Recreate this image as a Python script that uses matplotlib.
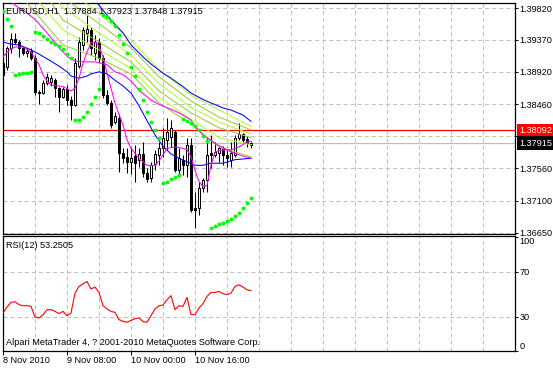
import matplotlib
matplotlib.use('Agg')
from matplotlib import pyplot as plt
from matplotlib.transforms import blended_transform_factory
import numpy as np

plt.rcParams['font.family'] = ['Liberation Sans', 'DejaVu Sans']
plt.rcParams['lines.scale_dashes'] = False

# EURUSD H1 candles (bar 0 = 8 Nov 2010 16:00)
opens = [1.3904, 1.3899, 1.3926, 1.3938, 1.3934, 1.3926, 1.3919, 1.3921, 1.3911, 1.3864,
         1.3862, 1.3876, 1.3878, 1.3880, 1.3869, 1.3856, 1.3868, 1.3852, 1.3845, 1.3900,
         1.3930, 1.3947, 1.3951, 1.3919, 1.3934, 1.3911, 1.3859, 1.3848, 1.3821, 1.3827,
         1.3777, 1.3772, 1.3765, 1.3773, 1.3768, 1.3776, 1.3749, 1.3742, 1.3762, 1.3775,
         1.3784, 1.3796, 1.3800, 1.3807, 1.3753, 1.3768, 1.3760, 1.3789, 1.3700, 1.3700,
         1.3728, 1.3739, 1.3777, 1.3775, 1.3777, 1.3784, 1.3775, 1.3768, 1.3775, 1.3799,
         1.3804, 1.3797, 1.37884]
highs = [1.3916, 1.3928, 1.3947, 1.3947, 1.3937, 1.3928, 1.3926, 1.3926, 1.3916, 1.3866,
         1.3880, 1.3890, 1.3888, 1.3883, 1.3871, 1.3871, 1.3873, 1.3858, 1.3911, 1.3941,
         1.3955, 1.3972, 1.3955, 1.3944, 1.3940, 1.3916, 1.3866, 1.3852, 1.3835, 1.3832,
         1.3784, 1.3784, 1.3786, 1.3789, 1.3784, 1.3793, 1.3756, 1.3765, 1.3782, 1.3793,
         1.3813, 1.3827, 1.3824, 1.3810, 1.3784, 1.3775, 1.3799, 1.3799, 1.3722, 1.3737,
         1.3742, 1.3799, 1.3803, 1.3793, 1.3787, 1.3787, 1.3782, 1.3793, 1.3803, 1.3820,
         1.3806, 1.3801, 1.37923]
lows = [1.3888, 1.3895, 1.3919, 1.3931, 1.3913, 1.3916, 1.3913, 1.3909, 1.3859, 1.3846,
        1.3861, 1.3873, 1.3872, 1.3856, 1.3835, 1.3855, 1.3845, 1.3824, 1.3844, 1.3897,
        1.3923, 1.3934, 1.3916, 1.3909, 1.3906, 1.3855, 1.3845, 1.3813, 1.3818, 1.3751,
        1.3763, 1.3749, 1.3748, 1.3737, 1.3758, 1.3744, 1.3737, 1.3737, 1.3753, 1.3760,
        1.3772, 1.3782, 1.3786, 1.3751, 1.3744, 1.3746, 1.3744, 1.3694, 1.3672, 1.3690,
        1.3722, 1.3722, 1.3756, 1.3772, 1.3765, 1.3760, 1.3758, 1.3758, 1.3772, 1.3796,
        1.3793, 1.3786, 1.37848]
closes = [1.3888, 1.3926, 1.3938, 1.3934, 1.3926, 1.3919, 1.3921, 1.3911, 1.3864, 1.3862,
          1.3876, 1.3885, 1.3883, 1.3869, 1.3856, 1.3868, 1.3852, 1.3845, 1.3904, 1.3934,
          1.3951, 1.3952, 1.3926, 1.3934, 1.3911, 1.3859, 1.3848, 1.3817, 1.3830, 1.3777,
          1.3770, 1.3765, 1.3770, 1.3763, 1.3776, 1.3749, 1.3741, 1.3760, 1.3776, 1.3784,
          1.3799, 1.3807, 1.3813, 1.3753, 1.3770, 1.3760, 1.3789, 1.3697, 1.3697, 1.3728,
          1.3739, 1.3775, 1.3775, 1.3779, 1.3784, 1.3775, 1.3770, 1.3777, 1.3799, 1.3804,
          1.3796, 1.3791, 1.37915]

# parabolic SAR
sar = [1.3978, 1.3966, 1.3957, 1.3888, 1.3889, 1.3890, 1.3890, 1.3892, 1.3948, 1.3947,
       1.3942, 1.3938, 1.3934, 1.3931, 1.3928, 1.3924, 1.3917, 1.3911, 1.3824, 1.3824,
       1.3828, 1.3835, 1.3846, 1.3856, 1.3868, 1.3972, 1.3969, 1.3964, 1.3957, 1.3944,
       1.3931, 1.3919, 1.3899, 1.3886, 1.3868, 1.3852, 1.3835, 1.3821, 1.3810, 1.3799,
       1.3735, 1.3737, 1.3741, 1.3744, 1.3746, 1.3825, 1.3823, 1.3820, 1.3815, 1.3810,
       1.3801, 1.3794, 1.3672, 1.3674, 1.3677, 1.3678, 1.3681, 1.3684, 1.3688, 1.3693,
       1.3700, 1.3707, 1.3714]

# RSI(12)
rsi = [33.5, 38.8, 42.8, 43.4, 40.8, 39.9, 39.9, 39.3, 30.0, 29.1,
       32.0, 36.4, 36.4, 34.9, 32.9, 34.9, 31.1, 33.5, 51.0, 56.9,
       59.2, 61.2, 54.6, 56.3, 51.6, 39.9, 37.0, 34.9, 34.0, 27.6,
       26.1, 25.3, 27.0, 28.5, 29.1, 25.9, 25.3, 31.1, 37.0, 39.9,
       40.5, 45.2, 48.7, 36.4, 39.9, 39.3, 47.2, 32.0, 32.0, 37.9,
       41.7, 48.1, 51.6, 51.6, 52.5, 50.4, 49.6, 51.0, 56.9, 58.3,
       56.3, 53.9, 53.25]

# moving averages (bar index, price)
blue_slow_bars = [21, 23, 25, 27, 30, 32, 35, 37, 40, 42, 45, 47, 50, 52, 55, 57, 60, 62]
blue_slow = [1.4005, 1.3993, 1.3979, 1.3965, 1.3947, 1.3930, 1.3913, 1.3903, 1.3890,
             1.3883, 1.3871, 1.3862, 1.3853, 1.3848, 1.3841, 1.3838, 1.3831, 1.3822]

blue_fast_bars = [0, 2, 4, 7, 9, 12, 14, 16, 17, 19, 21, 22, 24, 26, 28, 30, 32, 34, 36,
                  38, 40, 42, 44, 46, 48, 50, 52, 55, 58, 62]
blue_fast = [1.3934, 1.3931, 1.3930, 1.3923, 1.3917, 1.3907, 1.3900, 1.3892, 1.3886, 1.3883,
             1.3886, 1.3889, 1.3892, 1.3889, 1.3880, 1.3872, 1.3862, 1.3844, 1.3823, 1.3803,
             1.3787, 1.3776, 1.3770, 1.3765, 1.3760, 1.3760, 1.3763, 1.3763, 1.3768, 1.3770]

magenta_fast_bars = [0, 1, 2, 3, 5, 7, 8, 9, 10, 11, 12, 14, 15, 16, 17, 18, 19, 20, 21, 22,
                     23, 24, 25, 26, 27, 28, 29, 30, 31, 32, 33, 34, 36, 38, 39, 40, 41, 43,
                     45, 46, 47, 48, 49, 50, 51, 52, 53, 55, 57, 59, 61, 62]
magenta_fast = [1.3913, 1.3920, 1.3924, 1.3927, 1.3927, 1.3920, 1.3911, 1.3902, 1.3888, 1.3879,
                1.3873, 1.3872, 1.3871, 1.3868, 1.3865, 1.3869, 1.3883, 1.3904, 1.3920, 1.3933,
                1.3934, 1.3928, 1.3913, 1.3890, 1.3869, 1.3848, 1.3832, 1.3817, 1.3796, 1.3784,
                1.3777, 1.3770, 1.3760, 1.3760, 1.3766, 1.3775, 1.3784, 1.3786, 1.3784, 1.3782,
                1.3772, 1.3753, 1.3737, 1.3730, 1.3732, 1.3760, 1.3779, 1.3782, 1.3782, 1.3786,
                1.3793, 1.3794]

magenta_slow_bars = [0, 2, 3, 5, 8, 11, 14, 16, 18, 20, 23, 26, 28, 30, 32, 34, 37, 39, 42,
                     44, 47, 48, 50, 53, 57, 60, 62]
magenta_slow = [1.4000, 1.3992, 1.3986, 1.3979, 1.3966, 1.3947, 1.3926, 1.3914, 1.3907, 1.3906,
                1.3906, 1.3902, 1.3892, 1.3888, 1.3879, 1.3866, 1.3852, 1.3846, 1.3839, 1.3834,
                1.3824, 1.3815, 1.3803, 1.3791, 1.3779, 1.3773, 1.3770]

ribbon1_bars = [15, 24, 32, 39, 47, 54, 62]
ribbon1 = [1.4014, 1.3974, 1.3937, 1.3895, 1.3859, 1.3838, 1.3815]
ribbon2_bars = [15, 24, 32, 39, 47, 54, 62]
ribbon2 = [1.3997, 1.3960, 1.3926, 1.3885, 1.3851, 1.3828, 1.3810]
ribbon3_bars = [12, 15, 24, 32, 39, 47, 54, 62]
ribbon3 = [1.4004, 1.3982, 1.3947, 1.3916, 1.3875, 1.3842, 1.3821, 1.3804]
ribbon4_bars = [12, 15, 24, 32, 39, 47, 54, 62]
ribbon4 = [1.3990, 1.3965, 1.3934, 1.3906, 1.3865, 1.3834, 1.3813, 1.3799]
ribbon5_bars = [6, 9, 15, 24, 32, 39, 47, 54, 62]
ribbon5 = [1.4014, 1.3990, 1.3951, 1.3923, 1.3897, 1.3856, 1.3825, 1.3799, 1.3789]
ribbon6_bars = [3, 6, 15, 24, 32, 39, 47, 54, 62]
ribbon6 = [1.4014, 1.3989, 1.3930, 1.3911, 1.3889, 1.3848, 1.3818, 1.3786, 1.3772]

price_ticks = [1.36650, 1.37100, 1.37560, 1.38010, 1.38460, 1.38920, 1.39370, 1.39820]
price_labels = ['1.36650', '1.37100', '1.37560', '', '1.38460', '1.38920', '1.39370', '1.39820']
rsi_ticks = [0, 30, 70, 100]
time_bars = [0, 16, 32, 48]
time_labels = ['8 Nov 2010', '9 Nov 08:00', '10 Nov 00:00', '10 Nov 16:00']
ask_line = 1.38092
bid_line = 1.37915
header = 'EURUSD,H1  1.37884 1.37923 1.37848 1.37915'
rsi_title = 'RSI(12) 53.2505'
footer = 'Alpari MetaTrader 4, ? 2001-2010 MetaQuotes Software Corp.'

W, H = 553, 368
FS = 6.6
grid_kw = dict(color='#c0c0c0', lw=0.75, ls=(0, (2.9, 2.2)), zorder=0)

fig = plt.figure(figsize=(W / 100, H / 100), dpi=100)
ax = fig.add_axes([2.5 / W, 1 - 233.5 / H, 512.5 / W, 231 / H])
ax2 = fig.add_axes([2.5 / W, 1 - 351 / H, 512.5 / W, 115 / H])

for a in (ax, ax2):
    a.set_xlim(-0.125, 128)
    for s in a.spines.values():
        s.set_linewidth(0.9)
        s.set_color('black')
    for b in range(8, 128, 8):
        a.axvline(b, **grid_kw)
    a.yaxis.tick_right()
    a.tick_params(axis='y', length=2.2, width=0.7, pad=1.2, labelsize=FS)

# --- price pane ---
ax.set_ylim(1.36638, 1.39898)
for p in price_ticks:
    ax.axhline(p, **grid_kw)
ax.set_yticks(price_ticks)
ax.set_yticklabels(price_labels)
ax.tick_params(axis='x', bottom=False, labelbottom=False)

x = np.arange(len(opens))
o = np.array(opens)
c = np.array(closes)
up = c >= o
ax.vlines(x, lows, highs, color='black', lw=0.75, zorder=3)
ax.bar(x[up], np.maximum(c - o, 0.00002)[up], bottom=o[up], width=0.5,
       facecolor='white', edgecolor='black', lw=0.75, zorder=4)
ax.bar(x[~up], (o - c)[~up], bottom=c[~up], width=0.5,
       facecolor='black', edgecolor='black', lw=0.75, zorder=4)

ax.axhline(bid_line, color='#c0c0c0', lw=0.9, zorder=2)
ax.axhline(ask_line, color='red', lw=0.9, zorder=2)

ribbons = [(ribbon1_bars, ribbon1), (ribbon2_bars, ribbon2), (ribbon3_bars, ribbon3),
           (ribbon4_bars, ribbon4), (ribbon5_bars, ribbon5), (ribbon6_bars, ribbon6)]
for k, (rb, rv) in enumerate(ribbons):
    ax.plot(rb, rv, color='#adff2f' if k % 2 == 0 else '#9acd32', lw=0.75, zorder=5)
ax.plot(blue_slow_bars, blue_slow, color='#0000ff', lw=0.75, zorder=5)
ax.plot(blue_fast_bars, blue_fast, color='#0000ff', lw=0.75, zorder=5)
ax.plot(magenta_slow_bars, magenta_slow, color='#ff00ff', lw=0.75, zorder=5)
ax.plot(magenta_fast_bars, magenta_fast, color='#ff00ff', lw=0.75, zorder=5)
ax.plot(x, sar, 'o', color='#00ff00', ms=2.8, mew=0, zorder=6)

tr = blended_transform_factory(ax.transAxes, ax.transData)
ax.text(1 + 4 / 512.5, ask_line, '%.5f' % ask_line, transform=tr, ha='left', va='center',
        color='white', fontsize=FS, clip_on=False, zorder=10,
        bbox=dict(boxstyle='square,pad=0.22', fc='red', ec='none'))
ax.text(1 + 4 / 512.5, bid_line, '%.5f' % bid_line, transform=tr, ha='left', va='center',
        color='white', fontsize=FS, clip_on=False, zorder=10,
        bbox=dict(boxstyle='square,pad=0.22', fc='black', ec='none'))

# --- RSI pane ---
ax2.set_ylim(0.4, 101.3)
for lv in (30, 70):
    ax2.axhline(lv, **grid_kw)
ax2.plot(x, rsi, color='red', lw=0.8, zorder=3)
ax2.set_yticks(rsi_ticks)
ax2.set_yticklabels([str(v) for v in rsi_ticks])
ylabs = ax2.get_yticklabels()
ylabs[0].set_va('bottom')
ylabs[-1].set_va('top')
ax2.set_xticks(time_bars)
ax2.set_xticklabels(time_labels, ha='left', fontsize=FS)
ax2.tick_params(axis='x', length=3, width=0.7, pad=0.5)

fig.text(6 / W, 1 - 11 / H, header, fontsize=FS, va='center', ha='left')
fig.text(6 / W, 1 - 246 / H, rsi_title, fontsize=FS, va='center', ha='left')
fig.text(6 / W, 1 - 342.5 / H, footer, fontsize=FS, va='center', ha='left')

fig.savefig('out.png', dpi=100, facecolor='white')
